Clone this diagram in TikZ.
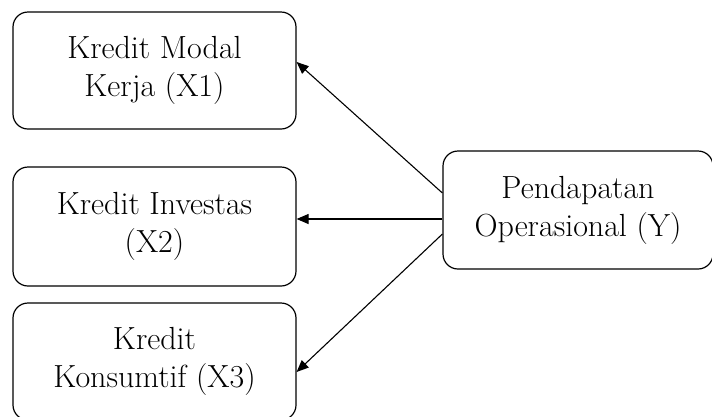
\documentclass[tikz,border=0pt]{standalone}
\usetikzlibrary{arrows.meta}
\begin{document}
\begin{tikzpicture}[x=1pt,y=-1pt,
    kotak/.style={rectangle,draw,rounded corners=15pt,line width=1.2pt,
      align=center,font=\fontsize{32}{38}\selectfont,inner sep=0pt},
    panah/.style={-{Triangle[length=12pt,width=10pt]},line width=1.1pt}]
  \useasboundingbox (0,0) rectangle (712,416);
  \clip (0,0) rectangle (712,416);
  \node[kotak,minimum width=283pt,minimum height=117pt](x1) at (154.5,70.5)
    {Kredit Modal\\Kerja (X1)};
  \node[kotak,minimum width=283pt,minimum height=119pt](x2) at (154.5,226.5)
    {Kredit Investas\\(X2)};
  \node[kotak,minimum width=283pt,minimum height=117pt](x3) at (154.5,361.5)
    {Kredit\\Konsumtif (X3)};
  \node[kotak,minimum width=270pt,minimum height=118pt](y) at (578,210)
    {Pendapatan\\Operasional (Y)};
  % panah dari Y ke X
  \draw[panah] ([yshift=17pt]y.west) -- ([yshift=8.5pt]x1.east);
  \draw[panah] ([yshift=-9pt]y.west) -- ([yshift=7.5pt]x2.east);
  \draw[panah] ([yshift=-24pt]y.west) -- ([yshift=-10.5pt]x3.east);
\end{tikzpicture}
\end{document}
